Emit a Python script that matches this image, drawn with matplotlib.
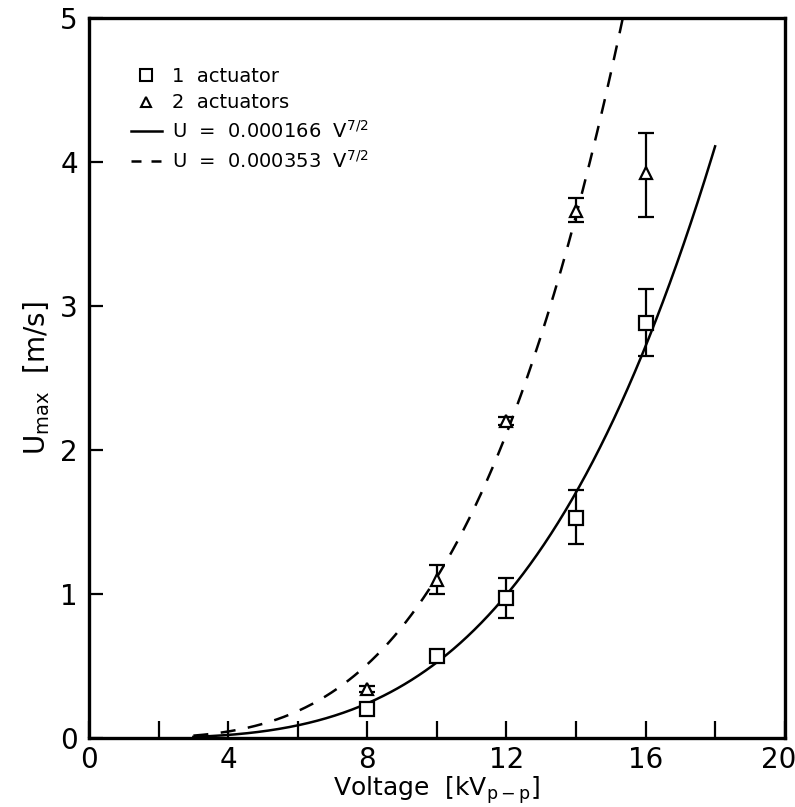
import numpy as np
import matplotlib
matplotlib.use("Agg")
import matplotlib.pyplot as plt
import matplotlib.transforms as mtransforms
from matplotlib.lines import Line2D

# Data
voltage = [8, 10, 12, 14, 16]
u_one = [0.20, 0.57, 0.97, 1.53, 2.88]
u_one_lo = [0.17, 0.54, 0.83, 1.35, 2.65]
u_one_hi = [0.23, 0.60, 1.11, 1.72, 3.12]
u_two = [0.34, 1.10, 2.20, 3.66, 3.92]
u_two_lo = [0.32, 1.00, 2.17, 3.58, 3.62]
u_two_hi = [0.36, 1.20, 2.23, 3.75, 4.20]
coef_one = 0.000166
coef_two = 0.000353
fit_one_range = (3.0, 18.0)
fit_two_range = (3.0, 15.35)

plt.rcParams['font.family'] = ['DejaVu Sans']

fig = plt.figure(figsize=(7.95, 8.07), dpi=100)
ax = fig.add_axes([0.112, 0.0855, 0.875, 0.8925])

v1 = np.linspace(*fit_one_range, 300)
v2 = np.linspace(*fit_two_range, 300)
ax.plot(v1, coef_one * v1 ** 3.5, color='black', lw=1.8)
ax.plot(v2, coef_two * v2 ** 3.5, color='black', lw=1.8, ls=(0, (6, 5)))

e1 = [np.array(u_one) - np.array(u_one_lo), np.array(u_one_hi) - np.array(u_one)]
e2 = [np.array(u_two) - np.array(u_two_lo), np.array(u_two_hi) - np.array(u_two)]
ax.errorbar(voltage, u_one, yerr=e1, fmt='s', mfc='white', mec='black', mew=1.6, ms=10,
            ecolor='black', elinewidth=1.6, capsize=6, capthick=1.6, zorder=3)
ax.errorbar(voltage, u_two, yerr=e2, fmt='^', mfc='white', mec='black', mew=1.6, ms=8,
            ecolor='black', elinewidth=1.6, capsize=6, capthick=1.6, zorder=3)

ax.set_xlim(0, 20)
ax.set_ylim(0, 5)
ax.set_xticks([0, 4, 8, 12, 16, 20])
ax.set_xticks([2, 6, 10, 14, 18], minor=True)
ax.set_yticks([0, 1, 2, 3, 4, 5])
ax.tick_params(axis='both', which='both', direction='in', width=1.6, labelsize=20,
               top=False, right=False)
ax.tick_params(axis='x', which='both', length=12, pad=6)
ax.tick_params(axis='y', which='both', length=10, pad=8)
for s in ax.spines.values():
    s.set_linewidth(2.4)

# keep the last x tick label inside the figure
fig.canvas.draw()
last = ax.get_xticklabels()[-1]
last.set_transform(last.get_transform() + mtransforms.ScaledTranslation(-6 / 100, 0, fig.dpi_scale_trans))

ax.set_xlabel(r'Voltage  [kV$_{\mathrm{p-p}}$]', fontsize=18, labelpad=0)
ax.set_ylabel(r'U$_{\mathrm{max}}$  [m/s]', fontsize=20, labelpad=6)

handles = [
    Line2D([], [], ls='none', marker='s', mfc='white', mec='black', mew=1.5, ms=8),
    Line2D([], [], ls='none', marker='^', mfc='white', mec='black', mew=1.5, ms=7),
    Line2D([], [], color='black', lw=1.8),
    Line2D([], [], color='black', lw=1.8, ls=(0, (4, 4))),
]
labels = ['1  actuator', '2  actuators',
          r'U  =  0.000166  V$^{7/2}$', r'U  =  0.000353  V$^{7/2}$']
ax.legend(handles, labels, loc='upper left', bbox_to_anchor=(0.049, 0.943),
          frameon=False, fontsize=14, handlelength=1.6, handletextpad=0.5,
          labelspacing=0.4, borderaxespad=0)

fig.savefig('out.png', dpi=100)
